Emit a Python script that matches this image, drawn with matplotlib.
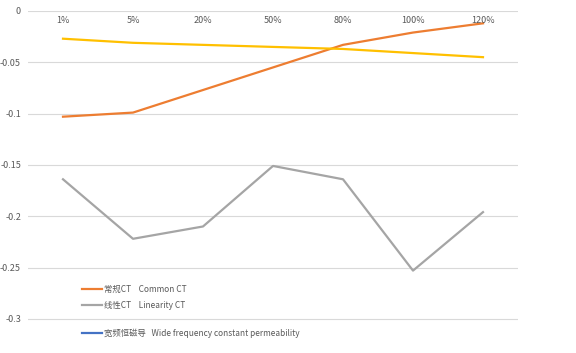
import numpy as np
import matplotlib.pyplot as plt

plt.rcParams['font.family'] = ['Noto Sans CJK SC', 'DejaVu Sans']

# 数据
categories = ['1%', '5%', '20%', '50%', '80%', '100%', '120%']
common_ct = [-0.103, -0.099, -0.077, -0.055, -0.033, -0.021, -0.012]
linearity_ct = [-0.164, -0.222, -0.210, -0.151, -0.164, -0.253, -0.196]
yellow_series = [-0.027, -0.031, -0.033, -0.035, -0.037, -0.041, -0.045]
wide_freq = [np.nan] * 7
labels = ['常规CT    Common CT', '线性CT    Linearity CT',
          '宽频恒磁导   Wide frequency constant permeability']
yticks = [0, -0.05, -0.1, -0.15, -0.2, -0.25, -0.3]
ytick_labels = ['0', '-0.05', '-0.1', '-0.15', '-0.2', '-0.25', '-0.3']

fig = plt.figure(figsize=(5.76, 3.53), dpi=100)
ax = fig.add_axes([28 / 576, 0, 490 / 576, 342 / 353])

x = np.arange(len(categories))
l1, = ax.plot(x, common_ct, color='#ED7D31', lw=1.6)
l2, = ax.plot(x, linearity_ct, color='#A5A5A5', lw=1.6)
ax.plot(x, yellow_series, color='#FFC000', lw=1.6)
l3, = ax.plot(x, wide_freq, color='#4472C4', lw=1.6)

ax.set_xlim(-0.5, len(categories) - 0.5)
ax.set_ylim(-0.3333, 0)
ax.set_yticks(yticks)
ax.set_yticklabels(ytick_labels)
ax.set_xticks([])
ax.tick_params(axis='y', length=0, pad=5, labelsize=6.5, labelcolor='#595959')
ax.grid(axis='y', color='#d9d9d9', lw=0.8)
ax.set_axisbelow(True)
for s in ax.spines.values():
    s.set_visible(False)

# 类别标签放在0线下方
for i, c in enumerate(categories):
    ax.annotate(c, xy=(i, 0), xytext=(0, -7), textcoords='offset points',
                ha='center', va='center', fontsize=6.5, color='#595959')

# 图例分两块
leg_kw = dict(frameon=False, fontsize=6, handlelength=2.4,
              handletextpad=0.3, labelspacing=0.85, borderpad=0,
              borderaxespad=0, loc='center left')
leg1 = ax.legend([l1, l2], labels[:2], bbox_to_anchor=(0.110, 0.162), **leg_kw)
ax.add_artist(leg1)
leg2 = ax.legend([l3], labels[2:], bbox_to_anchor=(0.110, 0.058), **leg_kw)
for lg in (leg1, leg2):
    for t in lg.get_texts():
        t.set_color('#595959')

fig.savefig('out.png', dpi=100)
